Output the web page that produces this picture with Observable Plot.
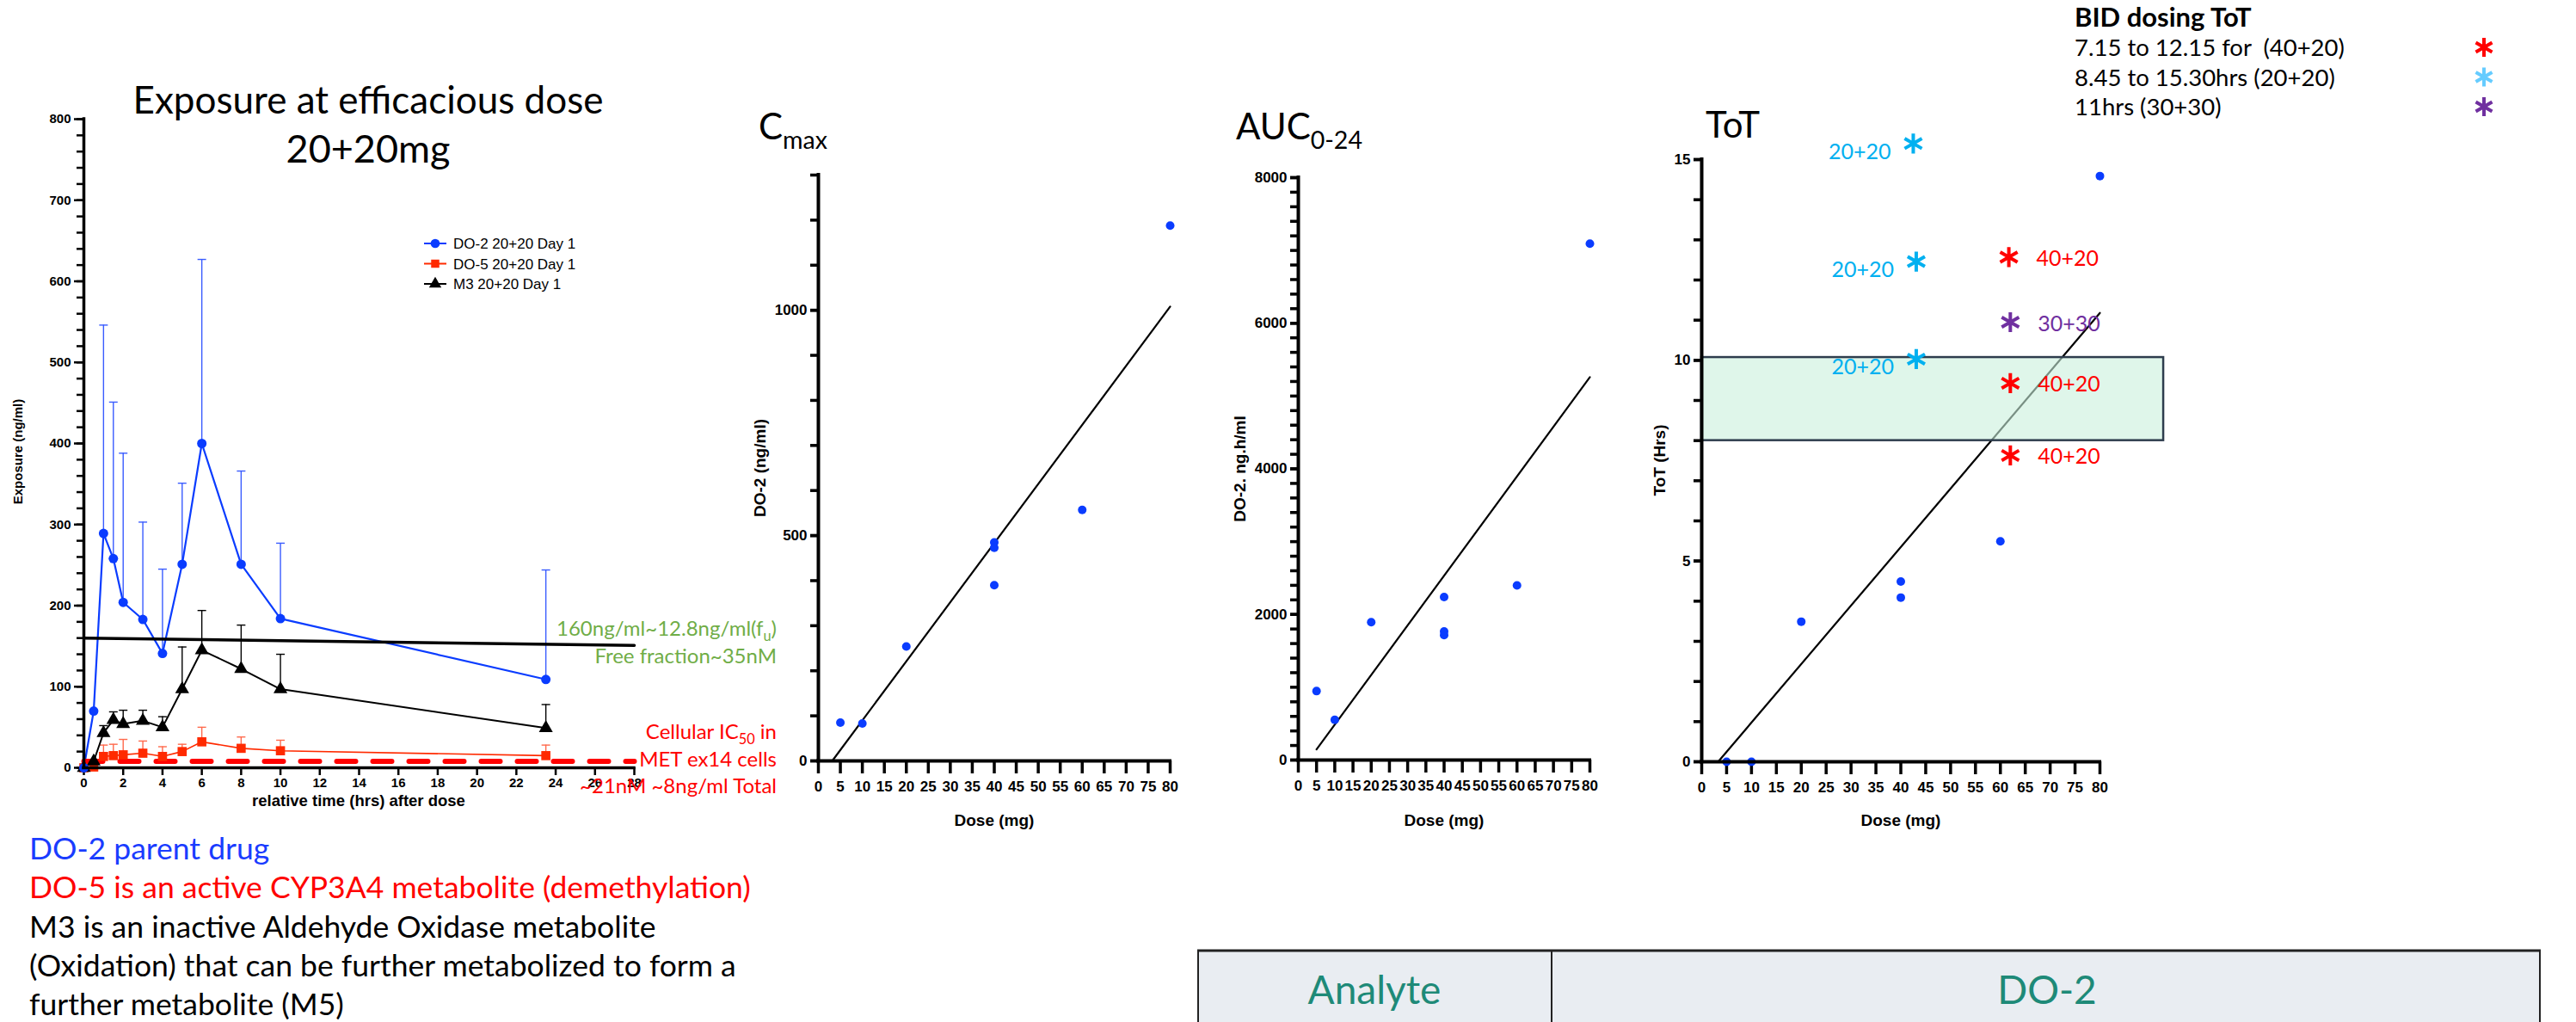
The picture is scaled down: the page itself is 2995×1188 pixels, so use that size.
<!DOCTYPE html>
<html><head><meta charset="utf-8">
<script src="https://cdn.jsdelivr.net/npm/d3@7"></script>
<script src="https://cdn.jsdelivr.net/npm/@observablehq/plot@0.6"></script>
<style>
body{margin:0;background:#fff;}
#root{position:relative;width:2995px;height:1188px;overflow:hidden;background:#fff;}
.panel{position:absolute;}
.panel svg{overflow:visible;max-width:none;}
</style></head><body><div id="root"></div>
<script>
// ---------- DATA: exposure time course (20+20 mg, Day 1) ----------
const timeHrs  = [0, 0.5, 1, 1.5, 2, 3, 4, 5, 6, 8, 10, 23.5];
const do2Mean  = [0, 70, 289, 258, 204, 183, 141, 251, 400, 251, 184, 109];
const do2Upper = [null, null, 546, 451, 388, 303, 245, 351, 627, 366, 277, 244];
const do5Mean  = [0, 1, 14, 15, 16, 18, 14, 20, 32, 24, 21, 15];
const do5Upper = [null, null, 28, 29, 35, 33, 26, 29, 50, 38, 34, 28];
const m3Mean   = [0, 8, 43, 59, 54, 58, 50, 97, 145, 122, 97, 49];
const m3Upper  = [null, null, 52, 69, 71, 71, 63, 149, 194, 176, 140, 78];
const seriesNames = ["DO-2 20+20 Day 1", "DO-5 20+20 Day 1", "M3 20+20 Day 1"];
const freeFracTimes  = [0, 28];
const freeFracValues = [160, 151];
const ic50Times  = [0, 28];
const ic50Values = [8, 8];
const timeTicks = [0, 2, 4, 6, 8, 10, 12, 14, 16, 18, 20, 22, 24, 26, 28];
const exposureTicks = [0, 100, 200, 300, 400, 500, 600, 700, 800];

// ---------- DATA: dose relationships ----------
const doseTicks = [0, 5, 10, 15, 20, 25, 30, 35, 40, 45, 50, 55, 60, 65, 70, 75, 80];
const cmaxDose  = [5, 10, 20, 40, 40, 40, 60, 80];
const cmaxValue = [85, 83, 254, 485, 473, 390, 557, 1188];
const cmaxFitDose = [3.15, 80];
const cmaxFitValue = [0, 1008];
const cmaxTicks = [0, 500, 1000];

const aucDose  = [5, 10, 20, 40, 40, 40, 60, 80];
const aucValue = [947, 552, 1893, 2240, 1767, 1716, 2398, 7093];
const aucFitDose = [5, 80];
const aucFitValue = [146, 5260];
const aucTicks = [0, 2000, 4000, 6000, 8000];

const totDose  = [5, 10, 20, 40, 40, 60, 80];
const totValue = [0, 0, 3.49, 4.49, 4.09, 5.49, 14.59];
const totFitDose = [3.3, 80];
const totFitValue = [0, 11.18];
const totTicks = [0, 5, 10, 15];
const targetDose = [0, 92.8];
const targetToT  = [8.0, 10.07];

// BID dosing ToT annotations
const bidDose    = [42.5, 43.1, 43.1, 61.7, 62.0, 62.0, 62.0];
const bidToT     = [15.4, 12.46, 10.03, 12.57, 10.95, 9.43, 7.63];
const bidRegimen = ["20+20", "20+20", "20+20", "40+20", "30+30", "40+20", "40+20"];
const bidLegendText    = ["7.15 to 12.15 for  (40+20)", "8.45 to 15.30hrs (20+20)", "11hrs (30+30)"];
const bidLegendRegimen = ["40+20", "20+20", "30+30"];

const notes = ["DO-2 parent drug", "DO-5 is an active CYP3A4 metabolite (demethylation)",
  "M3 is an inactive Aldehyde Oxidase metabolite", "(Oxidation) that can be further metabolized to form a",
  "further metabolite (M5)"];
const tableCells = ["Analyte", "DO-2"];

// ---------- STYLE ----------
const LATO = "Lato, 'Open Sans', sans-serif";
const ARIAL = "'Liberation Sans', Arial, sans-serif";
const BLUE = "#0a3cff", RED = "#ff2a00", BLACK = "#000";
const regimenColor = {"20+20": "#00b0f0", "40+20": "#ff0000", "30+30": "#7030a0"};
const legendColor = {"20+20": "#66ccff", "40+20": "#ff0000", "30+30": "#7030a0"};
const plain = d3.format("d");

const root = document.getElementById("root");
function place(node, left, top) {
  const d = document.createElement("div");
  d.className = "panel"; d.style.left = left + "px"; d.style.top = top + "px";
  d.appendChild(node); root.appendChild(d);
}
const capSymbol = {draw(ctx, size) { const w = Math.sqrt(size / Math.PI); ctx.moveTo(-w, 0); ctx.lineTo(w, 0); }};
const rows = (xs, ys, extra) => xs.map((x, i) => ({x, y: ys[i], u: extra ? extra[i] : null}));

// ---------- PANEL A: exposure time course ----------
const do2 = rows(timeHrs, do2Mean, do2Upper);
const do5 = rows(timeHrs, do5Mean, do5Upper);
const m3  = rows(timeHrs, m3Mean, m3Upper);
const errMarks = (data, color) => {
  const e = data.filter(d => d.u != null);
  return [
    Plot.ruleX(e, {x: "x", y1: "y", y2: "u", stroke: color, strokeWidth: 1.4}),
    Plot.dot(e, {x: "x", y: "u", symbol: capSymbol, r: 5, stroke: color, strokeWidth: 1.4, fill: "none"})
  ];
};
const plotA = Plot.plot({
  width: 960, height: 880, marginLeft: 97, marginRight: 223, marginTop: 38, marginBottom: 88,
  x: {domain: [0, 28]}, y: {domain: [0, 800]},
  style: {fontFamily: ARIAL, fontSize: "15px", fontWeight: "bold", background: "transparent", color: "#000"},
  marks: [
    Plot.axisY({ticks: d3.range(0, 801, 20), tickSize: 8, tickFormat: () => "", strokeWidth: 2.5, label: null}),
    Plot.axisY({ticks: exposureTicks, tickSize: 11, tickPadding: 4, tickFormat: plain, strokeWidth: 2.5, label: null}),
    Plot.axisX({ticks: timeTicks, tickSize: 9, tickPadding: 3, tickFormat: plain, strokeWidth: 2.5, label: null}),
    ...errMarks(do2, "#3a5cff"), ...errMarks(m3, BLACK), ...errMarks(do5, "#ff6a4d"),
    Plot.line(do5, {x: "x", y: "y", stroke: RED, strokeWidth: 1.6}),
    Plot.line(m3, {x: "x", y: "y", stroke: BLACK, strokeWidth: 2}),
    Plot.line(do2, {x: "x", y: "y", stroke: BLUE, strokeWidth: 2.2}),
    Plot.line(rows(freeFracTimes, freeFracValues), {x: "x", y: "y", stroke: BLACK, strokeWidth: 3.5}),
    Plot.line(rows(ic50Times, ic50Values), {x: "x", y: "y", stroke: "#ff0000", strokeWidth: 6, strokeDasharray: "22,20"}),
    Plot.dot(do5, {x: "x", y: "y", symbol: "square", r: 6, fill: RED}),
    Plot.dot(m3, {x: "x", y: "y", symbol: "triangle", r: 6, fill: BLACK}),
    Plot.dot(do2, {x: "x", y: "y", symbol: "circle", r: 5.5, fill: BLUE}),
    Plot.ruleX([0], {stroke: BLACK, strokeWidth: 3.5, strokeLinecap: "square"}),
    Plot.ruleY([0], {stroke: BLACK, strokeWidth: 3.5, strokeLinecap: "square"})
  ]
});
place(plotA, 0, 100);

// ---------- DOSE PANELS ----------
function dosePanel(o) {
  return Plot.plot({
    width: o.w, height: o.h, marginLeft: o.mL, marginRight: o.mR, marginTop: o.mT, marginBottom: o.mB,
    x: {domain: [0, 80]}, y: {domain: o.domain},
    style: {fontFamily: ARIAL, fontSize: "17px", fontWeight: "bold", background: "transparent", color: "#000"},
    marks: [
      Plot.axisY({ticks: o.minor, tickSize: 9, tickFormat: () => "", strokeWidth: 3.5, label: null}),
      Plot.axisY({ticks: o.major, tickSize: 9, tickPadding: 4, tickFormat: plain, strokeWidth: 3.5, label: null}),
      Plot.axisX({ticks: doseTicks, tickSize: 15, tickPadding: 8, tickFormat: plain, strokeWidth: 3.5, label: null}),
      Plot.line(rows(o.fitX, o.fitY), {x: "x", y: "y", stroke: BLACK, strokeWidth: 2.2}),
      ...(o.middle || []),
      Plot.dot(rows(o.dose, o.value), {x: "x", y: "y", r: 5, fill: BLUE}),
      Plot.ruleX([0], {stroke: BLACK, strokeWidth: 4, strokeLinecap: "square"}),
      Plot.ruleY([0], {stroke: BLACK, strokeWidth: 4, strokeLinecap: "square"}),
      ...(o.after || [])
    ]
  });
}
place(dosePanel({w: 540, h: 800, mL: 101, mR: 30, mT: 23, mB: 96, domain: [0, 1300],
  major: cmaxTicks, minor: d3.range(0, 1301, 100), dose: cmaxDose, value: cmaxValue,
  fitX: cmaxFitDose, fitY: cmaxFitValue}), 850, 180);

place(dosePanel({w: 480, h: 800, mL: 109, mR: 32, mT: 26, mB: 97, domain: [0, 8000],
  major: aucTicks, minor: d3.range(0, 8001, 200), dose: aucDose, value: aucValue,
  fitX: aucFitDose, fitY: aucFitValue}), 1400, 180);

const bid = bidDose.map((x, i) => ({x, y: bidToT[i], r: bidRegimen[i]}));
const bidMarks = [];
for (const reg of ["20+20", "40+20", "30+30"]) {
  const g = bid.filter(d => d.r === reg);
  const left = reg === "20+20";
  bidMarks.push(
    Plot.dot(g, {x: "x", y: "y", symbol: "asterisk", r: 11, stroke: regimenColor[reg], strokeWidth: 4}),
    Plot.text(g, {x: "x", y: "y", text: "r", textAnchor: left ? "end" : "start", dx: left ? -26 : 32, dy: left ? 10 : 2,
      fill: regimenColor[reg], fontSize: 25, fontWeight: "normal", fontFamily: LATO})
  );
}
place(dosePanel({w: 680, h: 880, mL: 98, mR: 119, mT: 85, mB: 95, domain: [0, 15],
  major: totTicks, minor: d3.range(0, 16, 1), dose: totDose, value: totValue,
  fitX: totFitDose, fitY: totFitValue,
  middle: [Plot.rect([{x1: targetDose[0], x2: targetDose[1], y1: targetToT[0], y2: targetToT[1]}],
    {x1: "x1", x2: "x2", y1: "y1", y2: "y2", fill: "#c9f0dc", fillOpacity: 0.6, stroke: "#2e3d4d", strokeWidth: 2.5})],
  after: bidMarks}), 1880, 100);

// ---------- TEXT OVERLAY ----------
const ov = d3.select(root).append("svg").attr("width", 2995).attr("height", 1188)
  .style("position", "absolute").style("left", "0").style("top", "0").style("overflow", "visible");
function label(x, y, segs, o = {}) {
  const size = o.size || 24;
  const t = ov.append("text").attr("x", x).attr("y", y)
    .attr("text-anchor", o.anchor || "start").attr("font-family", o.family || LATO)
    .attr("font-size", size).attr("font-weight", o.weight || "normal")
    .attr("fill", o.color || "#000").style("white-space", "pre");
  if (o.rotate) t.attr("transform", `rotate(${o.rotate},${x},${y})`).attr("dominant-baseline", "central");
  let sub = false;
  (Array.isArray(segs) ? segs : [[segs]]).forEach(([s, kind]) => {
    const ts = t.append("tspan").text(s);
    if (kind === "sub" && !sub) { ts.attr("font-size", size * 0.68).attr("dy", size * 0.25); sub = true; }
    else if (kind === "sub") { ts.attr("font-size", size * 0.68); }
    else if (sub) { ts.attr("dy", -size * 0.25); sub = false; }
  });
  return t;
}

// Panel titles
label(428, 132, "Exposure at efficacious dose", {anchor: "middle", size: 44});
label(428, 189, "20+20mg", {anchor: "middle", size: 45});
label(882, 162, [["C"], ["max", "sub"]], {size: 42});
label(1437, 162, [["AUC"], ["0-24", "sub"]], {size: 42});
label(1983, 160, "ToT", {size: 42});

// Axis titles
label(20, 525, "Exposure (ng/ml)", {family: ARIAL, weight: "bold", size: 15, anchor: "middle", rotate: -90});
label(417, 937, "relative time (hrs) after dose", {family: ARIAL, weight: "bold", size: 18.5, anchor: "middle"});
label(883, 544, "DO-2 (ng/ml)", {family: ARIAL, weight: "bold", size: 19, anchor: "middle", rotate: -90});
label(1441, 545, "DO-2. ng.h/ml", {family: ARIAL, weight: "bold", size: 19, anchor: "middle", rotate: -90});
label(1929, 535, "ToT (Hrs)", {family: ARIAL, weight: "bold", size: 19, anchor: "middle", rotate: -90});
for (const cx of [1156, 1679, 2210]) label(cx, 960, "Dose (mg)", {family: ARIAL, weight: "bold", size: 19, anchor: "middle"});

// Panel A legend
const legendMarks = [["circle", BLUE], ["square", RED], ["triangle", BLACK]];
seriesNames.forEach((name, i) => {
  const cy = 283 + i * 23.5;
  ov.append("line").attr("x1", 493).attr("x2", 519).attr("y1", cy).attr("y2", cy).attr("stroke", legendMarks[i][1]).attr("stroke-width", 2);
  const sym = {circle: d3.symbolCircle, square: d3.symbolSquare, triangle: d3.symbolTriangle}[legendMarks[i][0]];
  ov.append("path").attr("d", d3.symbol(sym, 90)()).attr("transform", `translate(506,${cy})`).attr("fill", legendMarks[i][1]);
  label(527, cy + 6, name, {family: ARIAL, size: 17});
});

// Reference-level annotations
label(903, 739, [["160ng/ml~12.8ng/ml(f"], ["u", "sub"], [")"]], {anchor: "end", size: 24, color: "#70ad47"});
label(903, 771, "Free fraction~35nM", {anchor: "end", size: 24, color: "#70ad47"});
label(903, 859, [["Cellular IC"], ["50", "sub"], [" in"]], {anchor: "end", size: 24, color: "#ff0000"});
label(903, 891, "MET ex14 cells", {anchor: "end", size: 24, color: "#ff0000"});
label(903, 922, "~21nM ~8ng/ml Total", {anchor: "end", size: 24, color: "#ff0000"});

// BID legend (top right)
label(2412, 31, "BID dosing ToT", {size: 31, weight: "bold"});
bidLegendText.forEach((s, i) => {
  const cy = 55 + i * 34.5;
  label(2412, cy + 10, s, {size: 27.5});
  ov.append("path").attr("d", d3.symbol(d3.symbolAsterisk, 340)()).attr("transform", `translate(2888,${cy})`)
    .attr("stroke", legendColor[bidLegendRegimen[i]]).attr("stroke-width", 4).attr("fill", "none");
});

// Notes (bottom left)
const noteColors = ["#1a3cff", "#ff0000", "#000", "#000", "#000"];
notes.forEach((s, i) => label(34, 999 + i * 45.3, s, {size: 35.5, color: noteColors[i]}));

// Table (bottom right)
ov.append("rect").attr("x", 1392).attr("y", 1105).attr("width", 1562).attr("height", 100).attr("fill", "#e9edf2");
ov.append("line").attr("x1", 1392).attr("x2", 2954).attr("y1", 1105).attr("y2", 1105).attr("stroke", "#222").attr("stroke-width", 3);
for (const lx of [1393, 1804, 2953]) ov.append("line").attr("x1", lx).attr("x2", lx).attr("y1", 1105).attr("y2", 1188).attr("stroke", "#222").attr("stroke-width", 2);
label(1598, 1167, tableCells[0], {anchor: "middle", size: 46, color: "#1e8a78"});
label(2380, 1167, tableCells[1], {anchor: "middle", size: 46, color: "#1e8a78"});
</script></body></html>
